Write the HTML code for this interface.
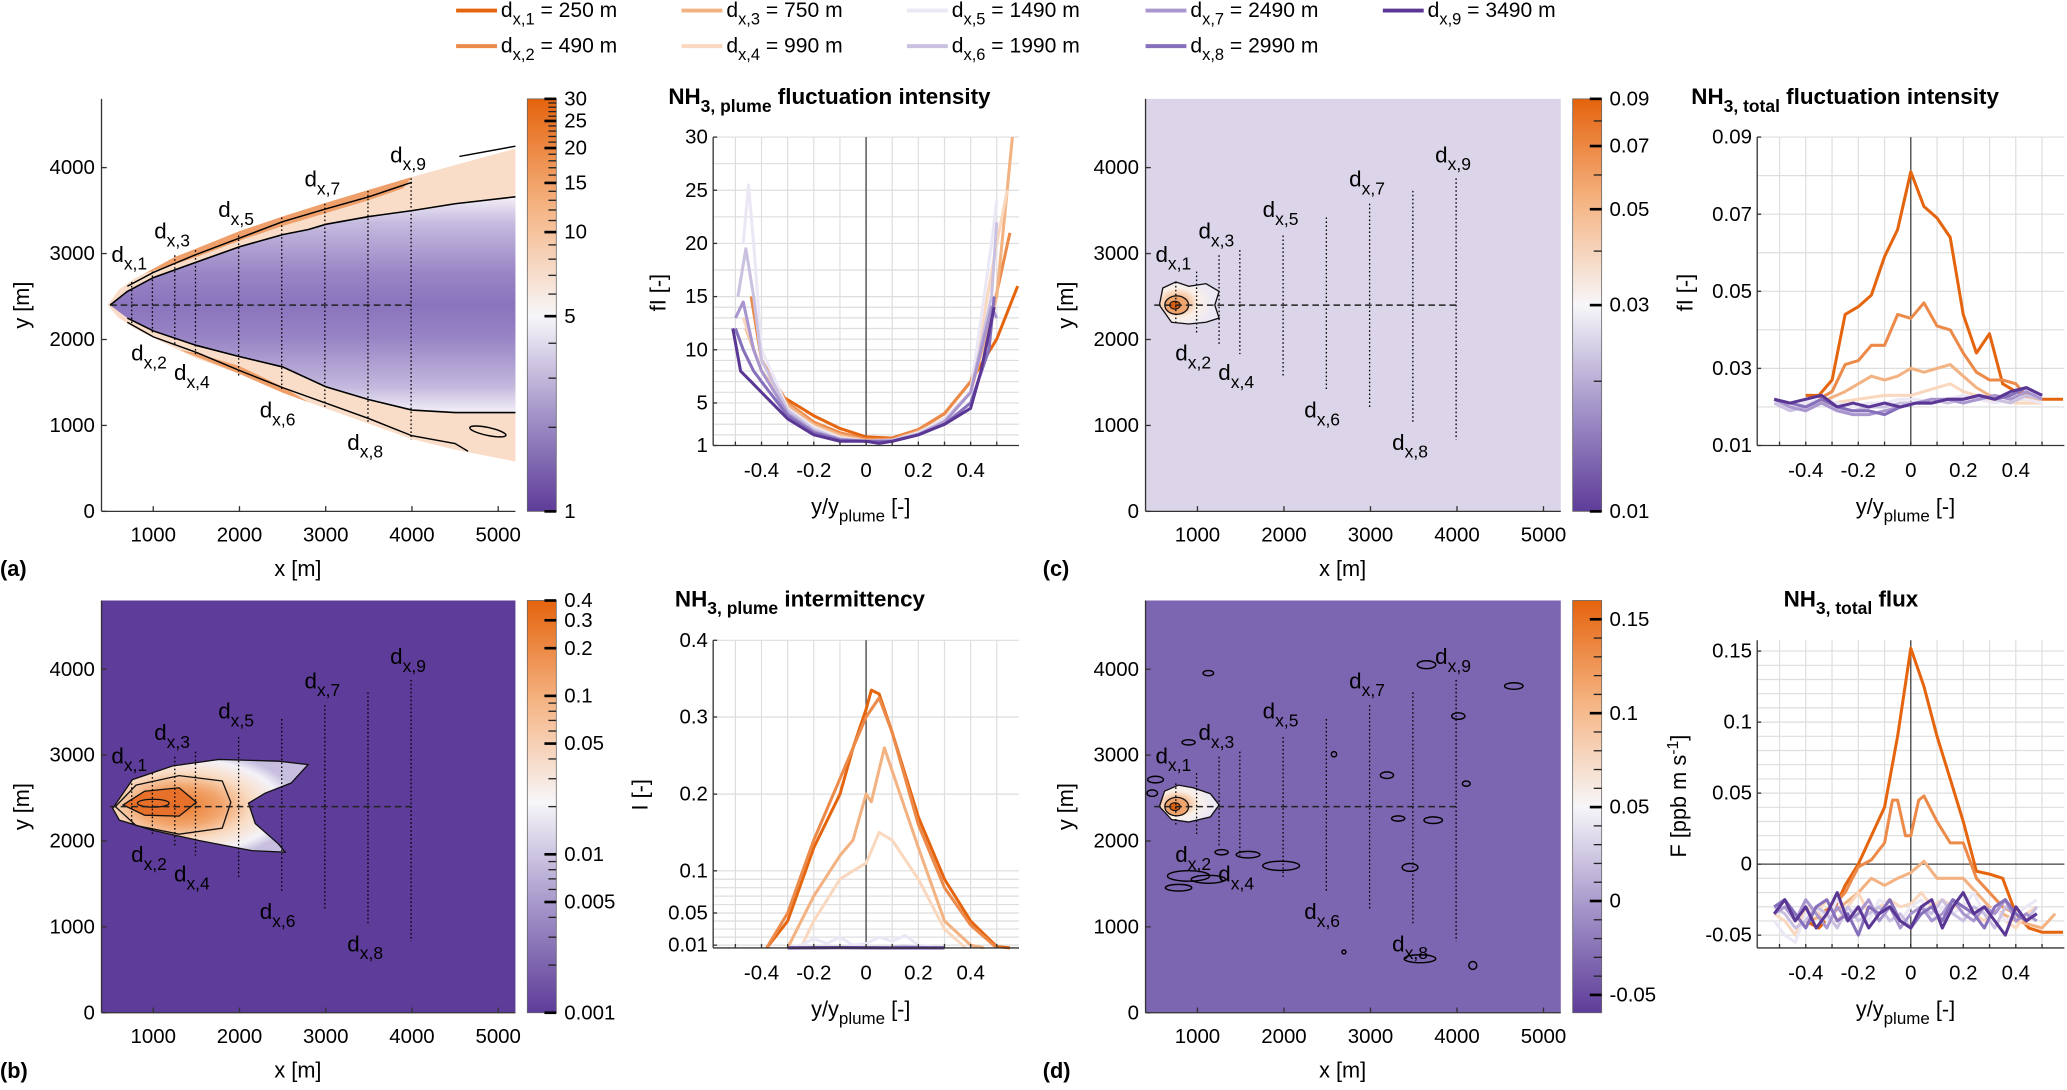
<!DOCTYPE html>
<html><head><meta charset="utf-8"><style>
body{margin:0;background:#fff;overflow:hidden}
svg{display:block;font-family:"Liberation Sans",Arial,sans-serif}
</style></head>
<body>
<svg id="fig" width="2067" height="1090" viewBox="0 0 1568 827" preserveAspectRatio="none">
<defs>
<linearGradient id="plumeIn" x1="0" y1="0" x2="0" y2="1">
<stop offset="0" stop-color="#f4f0f8"/><stop offset="0.12" stop-color="#c6bbdf"/><stop offset="0.35" stop-color="#9a86c6"/><stop offset="0.5" stop-color="#8a74bd"/><stop offset="0.65" stop-color="#9783c5"/><stop offset="0.88" stop-color="#c3b8dd"/><stop offset="1" stop-color="#f4f0f8"/>
</linearGradient>
<radialGradient id="blobB" cx="0.35" cy="0.5" r="0.6">
<stop offset="0" stop-color="#e9792c"/><stop offset="0.35" stop-color="#f2a66e"/><stop offset="0.6" stop-color="#f9dcc4"/><stop offset="0.85" stop-color="#f4f2f8"/><stop offset="1" stop-color="#c8bfe0"/>
</radialGradient>
<radialGradient id="blobC" cx="0.3" cy="0.5" r="0.6">
<stop offset="0" stop-color="#e97a30"/><stop offset="0.3" stop-color="#f6c39c"/><stop offset="0.6" stop-color="#fbf1e9"/><stop offset="1" stop-color="#ece8f4"/>
</radialGradient>
</defs>
</svg>
<script>
// ---------- data ----------
const seriesNames = ['d1','d2','d3','d4','d5','d6','d7','d8','d9'];
const legendDist = [250,490,750,990,1490,1990,2490,2990,3490];
const seriesColors = ['#e5650f','#ec8a4a','#f3b282','#f9d8bf','#ebe7f4','#cac1e1','#a996cf','#8770bb','#5a3795'];

// (a) plume fluctuation intensity
const fpX = [
 [-0.35,-0.3,-0.2,-0.1,0,0.1,0.2,0.3,0.4,0.5,0.58],
 [-0.44,-0.4,-0.3,-0.2,-0.1,0,0.1,0.2,0.3,0.4,0.47,0.55],
 [-0.46,-0.4,-0.3,-0.2,-0.1,0,0.1,0.2,0.3,0.4,0.5,0.56],
 [-0.47,-0.4,-0.3,-0.2,-0.1,0,0.1,0.2,0.3,0.4,0.5,0.54],
 [-0.47,-0.45,-0.43,-0.4,-0.3,-0.2,-0.1,0,0.1,0.2,0.3,0.4,0.48,0.5],
 [-0.49,-0.46,-0.43,-0.4,-0.3,-0.2,-0.1,0,0.1,0.2,0.3,0.4,0.48,0.5],
 [-0.5,-0.47,-0.43,-0.4,-0.3,-0.2,-0.1,0,0.1,0.2,0.3,0.4,0.48,0.5],
 [-0.5,-0.47,-0.43,-0.4,-0.3,-0.2,-0.1,0,0.1,0.2,0.3,0.4,0.47,0.49],
 [-0.51,-0.48,-0.44,-0.4,-0.3,-0.2,-0.1,0,0.05,0.1,0.2,0.3,0.4,0.44,0.49]
];
const fpY = [
 [6,5.3,3.8,2.6,1.8,1.7,2.5,4,7,11,16],
 [15,9,5,3.2,2.2,1.6,1.6,2.5,4,7,12,21],
 [12,8,4.8,3,2,1.5,1.5,2.3,3.5,6,15,30],
 [13,8,4.5,2.8,1.8,1.4,1.5,2.2,3.5,6,20,25],
 [20,25.5,20,10,4.5,2.7,1.7,1.4,1.5,2.2,3.5,6,20,24],
 [15,19.5,15,9,4.3,2.5,1.6,1.4,1.5,2.1,3.3,6,15,22],
 [13,14.5,10,8,4,2.3,1.6,1.4,1.4,2,3.2,6,14,13],
 [12,10,8,7,3.8,2.2,1.5,1.4,1.4,2,3,5,10,15],
 [12,8,7,6,3.5,2,1.4,1.4,1.2,1.4,2,3,4.5,8,14]
];
const fpTicks = [1,5,10,15,20,25,30];

// (b) plume intermittency
const imX = [
 [-0.38,-0.3,-0.2,-0.1,-0.05,0,0.02,0.05,0.1,0.2,0.3,0.4,0.5,0.55],
 [-0.38,-0.3,-0.2,-0.1,0,0.05,0.1,0.2,0.3,0.4,0.5],
 [-0.3,-0.2,-0.1,-0.05,0,0.02,0.07,0.1,0.2,0.3,0.4,0.45],
 [-0.25,-0.2,-0.1,-0.05,0,0.05,0.1,0.2,0.3,0.38],
 [-0.3,-0.25,-0.2,-0.15,-0.1,-0.05,0,0.05,0.1,0.15,0.2,0.25,0.3],
 [0.1,0.14,0.18,0.22],
 [-0.3,-0.1,0.1,0.3],
 [-0.3,-0.1,0.1,0.3],
 [-0.3,-0.1,0.1,0.3]
];
const imY = [
 [0,0.04,0.13,0.2,0.26,0.31,0.335,0.33,0.28,0.17,0.09,0.04,0.005,0],
 [0,0.05,0.14,0.22,0.30,0.325,0.28,0.16,0.08,0.035,0],
 [0,0.07,0.12,0.14,0.2,0.19,0.26,0.23,0.13,0.04,0.01,0],
 [0,0.04,0.09,0.10,0.11,0.15,0.14,0.09,0.03,0],
 [0,0.01,0.018,0.012,0.02,0.01,0.012,0.02,0.015,0.022,0.01,0.005,0],
 [0.002,0.007,0.005,0.001],
 [0,0.001,0,0],
 [0,0.001,0,0],
 [0,0.001,0,0]
];
const imTicks = [0.01,0.05,0.1,0.2,0.3,0.4];

// (c) total fluctuation intensity
const ftGrid = [-0.52,-0.46,-0.40,-0.34,-0.28,-0.22,-0.16,-0.10,-0.04,0.02,0.08,0.14,0.20,0.26,0.32,0.38,0.44,0.50];
const ftX = [
 [-0.4,-0.35,-0.3,-0.25,-0.2,-0.15,-0.1,-0.05,0,0.05,0.1,0.15,0.2,0.25,0.3,0.35,0.4,0.5,0.58],
 [-0.35,-0.3,-0.25,-0.2,-0.15,-0.1,-0.05,0,0.05,0.1,0.15,0.2,0.25,0.3,0.35,0.4,0.45],
 [-0.35,-0.25,-0.2,-0.15,-0.1,-0.05,0,0.05,0.1,0.15,0.2,0.25,0.3,0.4,0.5],
 [-0.4,-0.3,-0.2,-0.1,0,0.1,0.15,0.2,0.3,0.4,0.5],
 ftGrid, ftGrid, ftGrid, ftGrid, ftGrid
];
const ftY = [
 [0.023,0.023,0.027,0.044,0.046,0.049,0.059,0.066,0.081,0.072,0.069,0.064,0.044,0.034,0.039,0.026,0.024,0.022,0.022],
 [0.022,0.024,0.031,0.032,0.036,0.036,0.044,0.043,0.047,0.041,0.040,0.034,0.029,0.027,0.027,0.026,0.022],
 [0.021,0.024,0.026,0.028,0.027,0.028,0.030,0.029,0.030,0.031,0.028,0.025,0.023,0.022,0.022],
 [0.021,0.021,0.022,0.023,0.023,0.025,0.026,0.024,0.022,0.021,0.021],
 [0.021,0.020,0.021,0.022,0.021,0.020,0.021,0.021,0.022,0.022,0.021,0.022,0.023,0.022,0.021,0.022,0.022,0.021],
 [0.021,0.019,0.020,0.021,0.019,0.019,0.020,0.020,0.021,0.021,0.022,0.021,0.022,0.023,0.022,0.021,0.023,0.022],
 [0.022,0.020,0.019,0.021,0.019,0.018,0.018,0.019,0.020,0.021,0.022,0.022,0.021,0.022,0.023,0.022,0.024,0.022],
 [0.022,0.021,0.020,0.022,0.020,0.019,0.019,0.018,0.020,0.021,0.021,0.022,0.022,0.023,0.022,0.023,0.025,0.023],
 [0.022,0.021,0.022,0.023,0.020,0.021,0.020,0.021,0.020,0.021,0.021,0.022,0.022,0.023,0.022,0.024,0.025,0.023]
];
const ftTicks = [0.01,0.03,0.05,0.07,0.09];

// (d) total flux
const fxGrid = [-0.52,-0.48,-0.44,-0.40,-0.36,-0.32,-0.28,-0.24,-0.20,-0.16,-0.12,-0.08,-0.04,0,0.04,0.08,0.12,0.16,0.20,0.24,0.28,0.32,0.36,0.40,0.44,0.48];
const fxX = [
 [-0.4,-0.35,-0.3,-0.25,-0.2,-0.15,-0.1,-0.05,0,0.05,0.1,0.15,0.2,0.25,0.3,0.35,0.4,0.45,0.5,0.58],
 [-0.35,-0.3,-0.25,-0.2,-0.15,-0.1,-0.07,-0.05,-0.02,0,0.03,0.05,0.1,0.15,0.2,0.25,0.3,0.35,0.4],
 [-0.4,-0.3,-0.2,-0.15,-0.1,-0.05,0,0.05,0.1,0.15,0.2,0.25,0.3,0.4,0.5,0.55],
 fxGrid, fxGrid, fxGrid, fxGrid, fxGrid, fxGrid
];
const fxY = [
 [-0.04,-0.045,-0.035,-0.015,0.0,0.02,0.04,0.09,0.152,0.125,0.09,0.06,0.03,-0.005,-0.007,-0.01,-0.035,-0.045,-0.048,-0.048],
 [-0.035,-0.03,-0.02,-0.002,0.003,0.015,0.045,0.045,0.02,0.02,0.045,0.048,0.03,0.015,0.015,-0.01,-0.02,-0.03,-0.035],
 [-0.04,-0.035,-0.02,-0.01,-0.015,-0.01,-0.006,0.002,-0.01,-0.01,-0.01,-0.02,-0.03,-0.04,-0.045,-0.035],
 [-0.035,-0.04,-0.05,-0.03,-0.035,-0.025,-0.04,-0.03,-0.02,-0.035,-0.03,-0.025,-0.03,-0.028,-0.02,-0.03,-0.025,-0.03,-0.03,-0.035,-0.04,-0.03,-0.04,-0.045,-0.035,-0.03],
 [-0.04,-0.05,-0.055,-0.035,-0.03,-0.04,-0.025,-0.035,-0.03,-0.04,-0.025,-0.03,-0.04,-0.03,-0.025,-0.04,-0.03,-0.035,-0.03,-0.02,-0.035,-0.03,-0.04,-0.035,-0.03,-0.025],
 [-0.03,-0.035,-0.045,-0.04,-0.03,-0.035,-0.045,-0.03,-0.04,-0.035,-0.03,-0.04,-0.035,-0.045,-0.03,-0.035,-0.025,-0.035,-0.04,-0.03,-0.035,-0.045,-0.03,-0.035,-0.04,-0.03],
 [-0.035,-0.03,-0.04,-0.025,-0.035,-0.045,-0.03,-0.04,-0.035,-0.025,-0.04,-0.03,-0.045,-0.035,-0.03,-0.04,-0.035,-0.025,-0.035,-0.04,-0.03,-0.035,-0.025,-0.04,-0.035,-0.04],
 [-0.03,-0.025,-0.035,-0.045,-0.03,-0.025,-0.04,-0.035,-0.05,-0.03,-0.035,-0.025,-0.04,-0.045,-0.035,-0.03,-0.04,-0.025,-0.03,-0.035,-0.045,-0.03,-0.025,-0.035,-0.04,-0.035],
 [-0.035,-0.025,-0.04,-0.03,-0.045,-0.035,-0.02,-0.04,-0.03,-0.045,-0.035,-0.03,-0.04,-0.045,-0.03,-0.025,-0.045,-0.03,-0.02,-0.035,-0.03,-0.04,-0.05,-0.03,-0.04,-0.035]
];
const fxTicks = [-0.05,0,0.05,0.1,0.15];

// transect data (m) for maps
const transX = [750,990,1250,1490,1990,2490,2990,3490,3990];
const transTop = [2670,2790,2980,3040,3210,3420,3580,3730,3875];
const transBot = [2190,2060,1940,1830,1580,1400,1210,1040,833];
const labX = [591,820,1088,1317,1830,2311,2830,3327,3824];
const labY = [2980,1833,3250,1604,3500,1167,3854,792,4138];

// ---------- helpers ----------
const NS='http://www.w3.org/2000/svg';
const svg=document.getElementById('fig');
const TF=15.5;
function mk(tag,attrs,parent){const e=document.createElementNS(NS,tag);for(const k in attrs)e.setAttribute(k,attrs[k]);(parent||svg).appendChild(e);return e;}
function lin(d0,d1,p0,p1){return v=>p0+(v-d0)/(d1-d0)*(p1-p0);}
function logm(d0,d1,p0,p1){return v=>p0+(Math.log(v)-Math.log(d0))/(Math.log(d1)-Math.log(d0))*(p1-p0);}
function piece(ds,ps){return v=>{for(let i=0;i<ds.length-1;i++){if(v<=ds[i+1]||i==ds.length-2){return ps[i]+(v-ds[i])/(ds[i+1]-ds[i])*(ps[i+1]-ps[i]);}}};}
function subText(parent,x,y,main,sub,rest,size,opts){
  opts=opts||{};
  const t=mk('text',{x:x,y:y,'font-size':size,'text-anchor':opts.anchor||'start','font-weight':opts.bold?'bold':'normal',fill:'#000'},parent);
  const a=mk('tspan',{},t);a.textContent=main;
  const b=mk('tspan',{dy:size*0.35,'font-size':size*0.78},t);b.textContent=sub;
  if(rest){const c=mk('tspan',{dy:-size*0.35},t);c.textContent=rest;}
  return t;
}
function txt(parent,x,y,s,size,anchor,extra){const t=mk('text',Object.assign({x:x,y:y,'font-size':size,'text-anchor':anchor||'start',fill:'#000'},extra||{}),parent);t.textContent=s;return t;}

// ---------- legend ----------
const legend=mk('g',{});


const colX=[349,520,691,872,1052];
for(let i=0;i<9;i++){
  const cx=colX[Math.floor(i/2)], cy=[13,40][i%2];
  const g=mk('g',{},legend);
  
  
  mk('line',{x1:cx-3,x2:cx+28,y1:cy-5,y2:cy-5,stroke:seriesColors[i],'stroke-width':3},g);
  subText(g,cx+31,cy,'d','x,'+(i+1),' = '+legendDist[i]+' m',16);
}

// ---------- map panels ----------
function mapPanel(name,box,bg){
  const g=mk('g',{});
  
  
  const X=lin(400,5200,box.x0,box.x1), Y=lin(0,4800,box.y1,box.y0);
  mk('rect',{x:box.x0,y:box.y0,width:box.x1-box.x0,height:box.y1-box.y0,fill:bg},g);
  return {g,X,Y,box};
}
function pathFrom(pts,X,Y,close){return pts.map((p,i)=>(i?'L':'M')+X(p[0]).toFixed(1)+' '+Y(p[1]).toFixed(1)).join(' ')+(close?' Z':'');}
function mapOverlay(m){
  const {g,X,Y,box}=m;
  for(let i=0;i<9;i++){
    const l=mk('line',{x1:X(transX[i]),x2:X(transX[i]),y1:Y(transTop[i]),y2:Y(transBot[i]),stroke:'#000','stroke-width':1,'stroke-dasharray':'1.2 1.8'},g);
    
    
  }
  const h=mk('line',{x1:X(500),x2:X(3990),y1:Y(2400),y2:Y(2400),stroke:'#222','stroke-width':1.2,'stroke-dasharray':'5 3'},g);
  
  
  for(let i=0;i<9;i++){
    const t=subText(g,X(labX[i])-5,Y(labY[i])+5,'d','x,'+(i+1),'',17);
    
    
  }
  mk('line',{x1:box.x0,x2:box.x0,y1:box.y0,y2:box.y1,stroke:'#333','stroke-width':1},g);
  mk('line',{x1:box.x0,x2:box.x1,y1:box.y1,y2:box.y1,stroke:'#333','stroke-width':1},g);
  [1000,2000,3000,4000,5000].forEach(v=>{
    mk('line',{x1:X(v),x2:X(v),y1:box.y1,y2:box.y1-4,stroke:'#333'},g);
    txt(g,X(v),box.y1+23,String(v),TF,'middle');
  });
  [0,1000,2000,3000,4000].forEach(v=>{
    mk('line',{x1:box.x0,x2:box.x0+4,y1:Y(v),y2:Y(v),stroke:'#333'},g);
    txt(g,box.x0-5,Y(v)+5,String(v),TF,'end');
  });
  const xl=txt(g,(box.x0+box.x1)/2-8,box.y1+49,'x [m]',16.5,'middle');
  
  
  const yl=txt(g,box.x0-55,(box.y0+box.y1)/2,'y [m]',16.5,'middle',{transform:'rotate(-90 '+(box.x0-55)+' '+((box.y0+box.y1)/2)+')'});
  
  
}
function colorbar(name,x,y0,y1,wf,ticks,map,minor){
  const g=mk('g',{});
  
  
  const id='cb'+name;
  const lg=mk('linearGradient',{id:id,x1:0,y1:1,x2:0,y2:0},svg.querySelector('defs'));
  [[0,'#5e3c99'],[wf*0.5,'#a394c9'],[wf,'#f7f6f9'],[wf+(1-wf)*0.5,'#f5b483'],[1,'#e5630d']].forEach(s=>mk('stop',{offset:s[0],'stop-color':s[1]},lg));
  mk('rect',{x:x,y:y0,width:22,height:y1-y0,fill:'url(#'+id+')',stroke:'#666','stroke-width':0.6},g);
  (minor||[]).forEach(v=>mk('line',{x1:x+22,x2:x+16,y1:map(v),y2:map(v),stroke:'#222','stroke-width':1},g));
  ticks.forEach(v=>{
    mk('line',{x1:x+22,x2:x+13,y1:map(v),y2:map(v),stroke:'#000','stroke-width':2},g);
    txt(g,x+28,map(v)+5,String(v),TF,'start');
  });
}

// (a)
const mA=mapPanel('map-a-fluctuation-plume',{x0:77,x1:391,y0:75,y1:388},'#ffffff');
(function(){
  const {g,X,Y}=mA;
  const outerTop=[[470,2400],[600,2580],[800,2720],[1000,2820],[1250,2960],[1500,3060],[2000,3260],[2500,3430],[3000,3590],[3500,3740],[4000,3890],[4500,4030],[5200,4220]];
  const outerBot=[[5200,580],[4500,720],[4000,840],[3500,1020],[3000,1200],[2500,1380],[2000,1600],[1500,1780],[1250,1900],[1000,2020],[800,2120],[600,2250]];
  mk('path',{d:pathFrom(outerTop.concat(outerBot),X,Y,true),fill:'#f9ddc8'},g);
  const strip=[[900,2770],[1250,2960],[1500,3060],[2000,3260],[2500,3430],[3000,3590],[3500,3740],[4000,3890],[3900,3760],[3500,3620],[3000,3470],[2500,3320],[2000,3150],[1500,2960],[1200,2860]];
  mk('path',{d:pathFrom(strip,X,Y,true),fill:'#efa06a'},g);
  const strip2=[[1300,1880],[2000,1600],[2500,1380],[2800,1270],[2500,1450],[2000,1690],[1500,1840]];
  mk('path',{d:pathFrom(strip2,X,Y,true),fill:'#efa06a'},g);
  const innerTop=[[500,2400],[700,2560],[1000,2720],[1500,2900],[2000,3080],[2500,3220],[2800,3280],[3000,3340],[3500,3430],[4000,3500],[4500,3580],[5200,3660]];
  const innerBot=[[5200,1150],[4500,1150],[4000,1180],[3500,1300],[3000,1450],[2500,1680],[2000,1800],[1500,1930],[1000,2100],[700,2250]];
  mk('path',{d:pathFrom(innerTop.concat(innerBot),X,Y,false),fill:'url(#plumeIn)',stroke:'none'},g);
  mk('path',{d:pathFrom(innerTop,X,Y,false),fill:'none',stroke:'#000','stroke-width':1.2},g);
  mk('path',{d:pathFrom(innerBot,X,Y,false),fill:'none',stroke:'#000','stroke-width':1.2},g);
  const c2=[[700,2620],[1000,2780],[1500,2990],[2000,3180],[2500,3370],[3000,3520],[3500,3660],[4000,3830]];
  mk('path',{d:pathFrom(c2,X,Y,false),fill:'none',stroke:'#000','stroke-width':1.1},g);
  const c3=[[700,2200],[1000,2030],[1500,1850],[2000,1640],[2500,1440],[3000,1260],[3500,1080],[4000,880],[4500,790],[4650,700]];
  mk('path',{d:pathFrom(c3,X,Y,false),fill:'none',stroke:'#000','stroke-width':1.1},g);
  const c4=[[4550,4130],[5200,4250]];
  mk('path',{d:pathFrom(c4,X,Y,false),fill:'none',stroke:'#000','stroke-width':1.1},g);
  mk('ellipse',{cx:X(4880),cy:Y(930),rx:14,ry:3,fill:'none',stroke:'#000','stroke-width':1.1,transform:'rotate(12 '+X(4880)+' '+Y(930)+')'},g);
})();
mapOverlay(mA);
colorbar('colorbar-a',400,75,388,Math.log(5)/Math.log(30),[1,5,10,15,20,25,30],logm(1,30,388,75),[2,3,4,6,7,8,9,11,12,13,14,16,17,18,19,21,22,23,24,26,27,28,29]);

// (b)
const mB=mapPanel('map-b-intermittency-plume',{x0:77,x1:391,y0:455.6,y1:768.4},'#5e3c99');
(function(){
  const {g,X,Y}=mB;
  const blob=[[530,2380],[760,2715],[1222,2872],[1760,2950],[2450,2930],[2796,2890],[2600,2675],[2297,2557],[2105,2440],[2182,2203],[2450,1967],[2530,1870],[2143,1888],[1530,2006],[990,2125],[607,2243]];
  mk('path',{d:pathFrom(blob,X,Y,true),fill:'url(#blobB)',stroke:'#111','stroke-width':1},g);
  const mid=[[560,2400],[800,2650],[1300,2760],[1800,2700],[1900,2450],[1800,2150],[1300,2080],[800,2180]];
  mk('path',{d:pathFrom(mid,X,Y,true),fill:'none',stroke:'#111','stroke-width':1},g);
  const inner=[[650,2420],[900,2580],[1300,2620],[1500,2450],[1300,2290],[900,2300]];
  mk('path',{d:pathFrom(inner,X,Y,true),fill:'#e7712a',stroke:'#111','stroke-width':1},g);
  mk('ellipse',{cx:X(1000),cy:Y(2440),rx:12,ry:3,fill:'none',stroke:'#111','stroke-width':1},g);
})();
mapOverlay(mB);
colorbar('colorbar-b',400,455.6,768.4,0.51,[0.001,0.005,0.01,0.05,0.1,0.2,0.3,0.4],logm(0.001,0.4,768.4,455.6),[0.002,0.003,0.004,0.006,0.007,0.008,0.009,0.02,0.03,0.04,0.06,0.07,0.08,0.09]);

// (c)
const mC=mapPanel('map-c-fluctuation-total',{x0:869,x1:1184,y0:75,y1:388},'#dcd5e9');
(function(){
  const {g,X,Y}=mC;
  const blob=[[560,2400],[600,2600],[750,2670],[900,2620],[1100,2650],[1250,2560],[1200,2400],[1250,2250],[1100,2200],[900,2180],[700,2200]];
  mk('path',{d:pathFrom(blob,X,Y,true),fill:'url(#blobC)',stroke:'#111','stroke-width':1},g);
  mk('ellipse',{cx:X(760),cy:Y(2400),rx:9,ry:7,fill:'#efa46e',stroke:'#111','stroke-width':1},g);
  mk('ellipse',{cx:X(740),cy:Y(2400),rx:4,ry:3,fill:'#d95f10',stroke:'#111','stroke-width':0.8},g);
})();
mapOverlay(mC);
colorbar('colorbar-c',1193,75,388,0.5,[0.01,0.03,0.05,0.07,0.09],logm(0.01,0.09,388,75),[0.02,0.04,0.06,0.08]);

// (d)
const mD=mapPanel('map-d-flux-total',{x0:869,x1:1184,y0:455.6,y1:768.4},'#7d66b1');
const fluxBlobs=[[1126,3954,4,2],[3648,4052,7,3],[4657,3804,7,2.5],[4015,3454,5,2.5],[2578,3010,2,2],[3190,2766,5,2.5],[4107,2668,3,2],[3320,2262,5,2],[3725,2242,7,2.5],[1279,1869,5,2],[1585,1841,9,2.5],[1967,1711,14,3.5],[897,1593,16,4],[1126,1554,13,3],[782,1456,10,2.5],[3457,1692,6,3],[3572,629,12,3],[4183,551,3,3],[2693,708,1.5,1.5],[515,2715,6,2.5],[477,2557,4,2.5],[897,3148,5,2]];
(function(){
  const {g,X,Y}=mD;
  fluxBlobs.forEach(b=>mk('ellipse',{cx:X(b[0]),cy:Y(b[1]),rx:b[2],ry:b[3],fill:'none',stroke:'#000','stroke-width':1.1},g));
  const blob=[[560,2400],[620,2580],[780,2650],[950,2620],[1150,2550],[1250,2420],[1150,2280],[900,2220],[700,2250]];
  mk('path',{d:pathFrom(blob,X,Y,true),fill:'url(#blobC)',stroke:'#111','stroke-width':1},g);
  mk('ellipse',{cx:X(760),cy:Y(2400),rx:9,ry:7,fill:'#efa46e',stroke:'#111','stroke-width':1},g);
  mk('ellipse',{cx:X(740),cy:Y(2400),rx:4,ry:3,fill:'#d95f10',stroke:'#111','stroke-width':0.8},g);
})();
mapOverlay(mD);
colorbar('colorbar-d',1193,455.6,768.4,0.5,[-0.05,0,0.05,0.1,0.15],lin(-0.0595,0.16,768.4,455.6),[-0.04,-0.03,-0.02,-0.01,0.01,0.02,0.03,0.04,0.06,0.07,0.08,0.09,0.11,0.12,0.13,0.14]);

// ---------- line charts ----------
function lineChart(name,box,xs,ys,Ym,ticks,grid,zeroLine){
  const g=mk('g',{});
  
  
  const X=lin(-0.585,0.585,box.x0,box.x1);
  grid.forEach(v=>mk('line',{x1:box.x0,x2:box.x1,y1:Ym(v),y2:Ym(v),stroke:'#dedede','stroke-width':0.9},g));
  for(let k=-5;k<=5;k++){const v=k/10;mk('line',{x1:X(v),x2:X(v),y1:box.y0,y2:box.y1,stroke:'#dedede','stroke-width':0.9},g);}
  mk('line',{x1:X(0),x2:X(0),y1:box.y0,y2:box.y1,stroke:'#444','stroke-width':1},g);
  if(zeroLine!==undefined) mk('line',{x1:box.x0,x2:box.x1,y1:Ym(zeroLine),y2:Ym(zeroLine),stroke:'#444','stroke-width':1},g);
  for(let i=0;i<xs.length;i++){
    const p=mk('polyline',{points:xs[i].map((x,j)=>X(x).toFixed(1)+','+Ym(ys[i][j]).toFixed(1)).join(' '),fill:'none',stroke:seriesColors[i],'stroke-width':2.3,'stroke-linejoin':'round'},g);
    
    
  }
  mk('line',{x1:box.x0,x2:box.x0,y1:box.y0,y2:box.y1,stroke:'#333','stroke-width':1},g);
  mk('line',{x1:box.x0,x2:box.x1,y1:box.y1,y2:box.y1,stroke:'#333','stroke-width':1},g);
  for(let k=-5;k<=5;k++){const v=k/10;mk('line',{x1:X(v),x2:X(v),y1:box.y1,y2:box.y1-3,stroke:'#333'},g);}
  [-0.4,-0.2,0,0.2,0.4].forEach(v=>txt(g,X(v),box.y1+24,String(v),TF,'middle'));
  ticks.forEach(v=>{mk('line',{x1:box.x0,x2:box.x0+3,y1:Ym(v),y2:Ym(v),stroke:'#333'},g);txt(g,box.x0-4,Ym(v)+5,String(v),TF,'end');});
  const xl=subText(g,(box.x0+box.x1)/2-4,box.y1+52,'y/y','plume',' [-]',16.5,{anchor:'middle'});
  
  
  return {g,X};
}
function titleText(x,y,sub,rest,name){
  const t=subText(svg,x,y,'NH',sub,rest,17,{bold:true});
  
  
}
const boxA={x0:541,x1:773,y0:104,y1:338}, boxB={x0:541,x1:773,y0:485.8,y1:719.2};
const boxC={x0:1333,x1:1566,y0:104,y1:338}, boxD={x0:1333,x1:1566,y0:485.8,y1:719.2};
const gridA=[2,3,4,5,6,7,8,9,10,11,12,13,14,15,17.5,20,22.5,25,27.5,30];
lineChart('chart-a-fluctuation-plume',boxA,fpX,fpY,lin(1,30,boxA.y1,boxA.y0),fpTicks,gridA);
const imMap=piece([0,0.01,0.05,0.1,0.2,0.3,0.4],[719.2,717.1,692.7,660.7,602.5,544.0,485.8]);
lineChart('chart-b-intermittency-plume',boxB,imX,imY,imMap,imTicks,[0.01,0.02,0.03,0.04,0.05,0.06,0.07,0.08,0.09,0.1,0.2,0.3,0.4]);
lineChart('chart-c-fluctuation-total',boxC,ftX,ftY,lin(0.01,0.09,boxC.y1,boxC.y0),ftTicks,[0.02,0.03,0.04,0.05,0.06,0.07,0.08,0.09]);
const fxGridLines=[];for(let k=-5;k<=15;k++)fxGridLines.push(k/100);
lineChart('chart-d-flux-total',boxD,fxX,fxY,lin(-0.059,0.1576,boxD.y1,boxD.y0),fxTicks,fxGridLines,0);

// titles
titleText(507,79,'3, plume',' fluctuation intensity','title-a');
titleText(512,460,'3, plume',' intermittency','title-b');
titleText(1283,79,'3, total',' fluctuation intensity','title-c');
titleText(1353,460,'3, total',' flux','title-d');

// y titles
function yTitle(x,y,s,name){const t=txt(svg,x,y,s,16.5,'middle',{transform:'rotate(-90 '+x+' '+y+')'});return t;}
yTitle(505,222,'fI [-]','y-axis-title-a');
yTitle(491,603,'I [-]','y-axis-title-b');
yTitle(1284,222,'fI [-]','y-axis-title-c');
(function(){
  const x=1279,y=604;
  const t=mk('text',{x:x,y:y,'font-size':16.5,'text-anchor':'middle',transform:'rotate(-90 '+x+' '+y+')'});
  
  
  const a=mk('tspan',{},t);a.textContent='F [ppb m s';
  const b=mk('tspan',{dy:-6,'font-size':12},t);b.textContent='-1';
  const c=mk('tspan',{dy:6},t);c.textContent=']';
})();

// panel letters
[['(a)',0,437],['(b)',0,818],['(c)',791,437],['(d)',791,818]].forEach(p=>{
  const t=txt(svg,p[1],p[2],p[0],16.5,'start',{'font-weight':'bold'});
  
  
});
</script>
</body></html>
